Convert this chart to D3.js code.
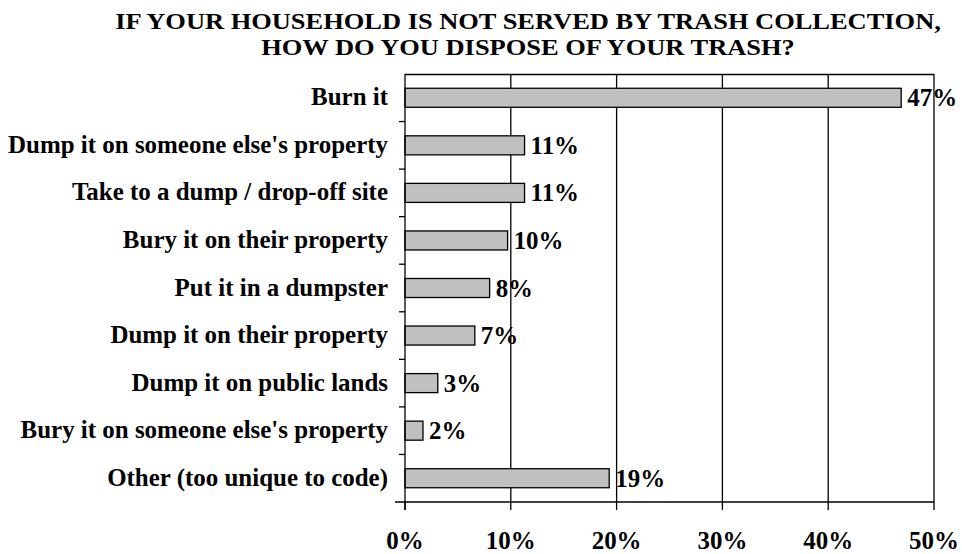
<!DOCTYPE html>
<html><head><meta charset="utf-8">
<script src="https://cdn.jsdelivr.net/npm/d3@7"></script>
<style>body{margin:0;background:#fff}svg{display:block}</style>
</head><body><svg id="c" width="962" height="554"></svg>
<script>
const categories = ["Burn it","Dump it on someone else's property","Take to a dump / drop-off site","Bury it on their property","Put it in a dumpster","Dump it on their property","Dump it on public lands","Bury it on someone else's property","Other (too unique to code)"];
const values = [46.9, 11.3, 11.3, 9.7, 8.0, 6.6, 3.1, 1.7, 19.3];
const valueLabels = ["47%","11%","11%","10%","8%","7%","3%","2%","19%"];
const tickValues = [0,10,20,30,40,50];
const titleLines = ["IF YOUR HOUSEHOLD IS NOT SERVED BY TRASH COLLECTION,","HOW DO YOU DISPOSE OF YOUR TRASH?"];

const svg = d3.select("#c");
const FONT = "Liberation Serif";

const L=405,R=934,T=74,B=502;
const x = d3.scaleLinear().domain([0,50]).range([L,R]);
const y = d3.scaleBand().domain(categories).range([T,B]).paddingInner(0.6).paddingOuter(0.3);
const yb = d3.scaleBand().domain(categories).range([T,B]);

function natW(s, fs){
  const t = svg.append("text").attr("font-family",FONT).attr("font-weight","bold").attr("font-size",fs).text(s);
  const w = t.node().getComputedTextLength(); t.remove(); return w;
}
const sx = Math.min(1.1, 380 / natW(categories[1], 25));
const sxT = Math.min(1.15, 832 / natW(titleLines[0], 23));

function txt(sel){ return sel.attr("font-family",FONT).attr("font-weight","bold").attr("fill","#000"); }

txt(svg.append("g").selectAll("text").data(titleLines).join("text"))
  .attr("transform",(d,i)=>`translate(528,${29+i*26}) scale(${sxT},1)`)
  .attr("text-anchor","middle").attr("font-size",23).text(d=>d);

// top border
svg.append("line").attr("x1",L).attr("x2",R).attr("y1",T+0.5).attr("y2",T+0.5).attr("stroke","#000").attr("stroke-width",1.3);
// gridlines
svg.selectAll(".grid").data(tickValues.slice(1)).join("line")
  .attr("x1",d=>x(d)).attr("x2",d=>x(d)).attr("y1",T).attr("y2",B+8).attr("stroke","#000").attr("stroke-width",1.3);

svg.selectAll(".bar").data(values).join("rect")
  .attr("x",L).attr("y",(d,i)=>y(categories[i]))
  .attr("width",d=>x(d)-L).attr("height",y.bandwidth())
  .attr("fill","#c0c0c0").attr("stroke","#000").attr("stroke-width",1.3);

txt(svg.append("g").selectAll("text").data(values).join("text"))
  .attr("transform",(d,i)=>`translate(${x(d)+6},${y(categories[i])+y.bandwidth()/2+8.5}) scale(${sx},1)`)
  .attr("font-size",25).text((d,i)=>valueLabels[i]);

// left axis
svg.append("line").attr("x1",L).attr("x2",L).attr("y1",T).attr("y2",B+8).attr("stroke","#000").attr("stroke-width",1.3);
svg.selectAll(".lt").data(categories.slice(1)).join("line")
  .attr("x1",L-6).attr("x2",L).attr("y1",d=>yb(d)).attr("y2",d=>yb(d)).attr("stroke","#000").attr("stroke-width",1.3);
txt(svg.append("g").selectAll("text").data(categories).join("text"))
  .attr("transform",d=>`translate(388,${yb(d)+yb.bandwidth()/2+7.5}) scale(${sx},1)`)
  .attr("text-anchor","end").attr("font-size",25).text(d=>d);

// bottom axis
svg.append("line").attr("x1",L-10).attr("x2",R).attr("y1",B).attr("y2",B).attr("stroke","#000").attr("stroke-width",1.5);
svg.append("line").attr("x1",L).attr("x2",L).attr("y1",B).attr("y2",B+8).attr("stroke","#000").attr("stroke-width",1.3);
txt(svg.append("g").selectAll("text").data(tickValues).join("text"))
  .attr("transform",d=>`translate(${x(d)},549) scale(${sx},1)`)
  .attr("text-anchor","middle").attr("font-size",25).text(d=>d+"%");
</script></body></html>
